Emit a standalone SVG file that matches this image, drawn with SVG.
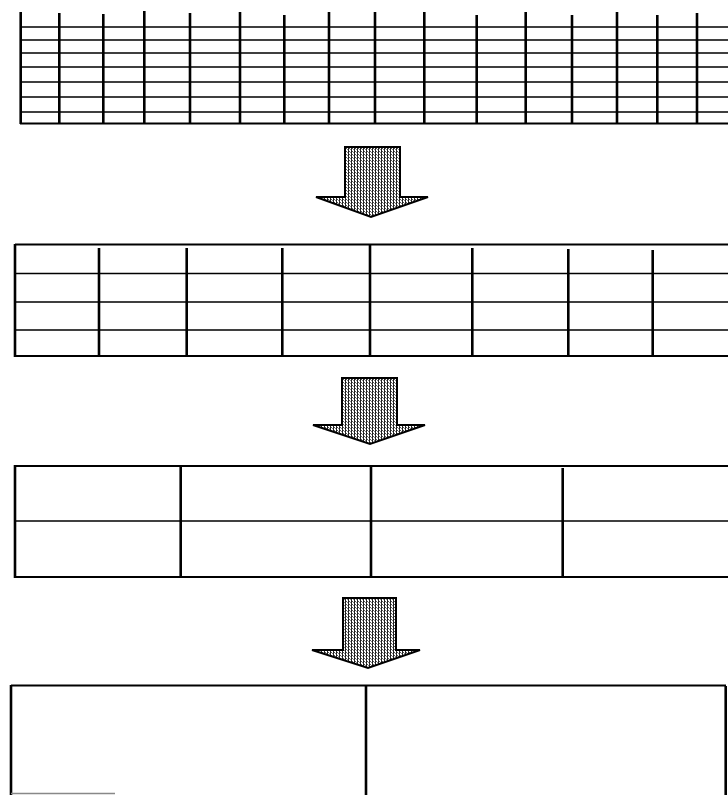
<svg xmlns="http://www.w3.org/2000/svg" width="728" height="795" viewBox="0 0 728 795">
<style>
.v{stroke:#000;stroke-width:2.6;fill:none}
.h{stroke:#000;stroke-width:1.6;fill:none}
.hb{stroke:#000;stroke-width:2;fill:none}
.arrow{fill:url(#stip);stroke:#000;stroke-width:2;stroke-linejoin:miter}
</style>
<defs>
<pattern id="stip" width="3" height="3" patternUnits="userSpaceOnUse">
<rect width="3" height="3" fill="#fff"/>
<rect x="0" y="0" width="1" height="3" fill="#222"/>
<rect x="1" y="1" width="1" height="1" fill="#555"/>
<rect x="2" y="2" width="1" height="1" fill="#888"/>
</pattern>
</defs>
<rect width="728" height="795" fill="#fff"/>
<g id="grid1">
<path class="h" d="M20 27H728M20 40H728M20 53H728M20 67H728M20 82H728M20 97H728M20 112H728"/>
<path class="hb" d="M20 123.5H728"/>
<path class="v" d="M20.7 12V124M59.3 13V124M103.3 14V124M144.3 11V124M190 13V124M240 12V124M284.3 15V124M329 12V124M375 12V124M424.3 12V124M476.7 15V124M525.7 12V124M572 15V124M617 12V124M657.3 15V124M697 13V124"/>
</g>
<g id="grid2">
<path class="hb" d="M15 244.5H728M15 356H728"/>
<path class="h" d="M15 273.5H728M15 302H728M15 330H728"/>
<path class="v" d="M15 244V357M99 248V356M186.7 248V356M282.3 248V356M370 245V356M472.3 248V356M568.3 249V356M652.7 250V356"/>
</g>
<g id="grid3">
<path class="hb" d="M15 466H728M15 577H728"/>
<path class="h" d="M15 521H728"/>
<path class="v" d="M15 465V578M180.7 466V577M371 466V577M562.7 468V577"/>
</g>
<g id="grid4">
<path class="hb" d="M11 685.5H726"/>
<path class="v" d="M11 685V795M366 685V795M725.7 686V795"/>
<path stroke="#888" stroke-width="1.5" d="M11 793.5H115"/>
</g>
<g id="connectors">
<path class="arrow" d="M345 147H400V197H428L371 217L316 197H345Z"/>
<path class="arrow" d="M342 378H397V425H425L370 444L313 425H342Z"/>
<path class="arrow" d="M343 598H396V650H420L368 668L312 650H343Z"/>
</g>
</svg>
